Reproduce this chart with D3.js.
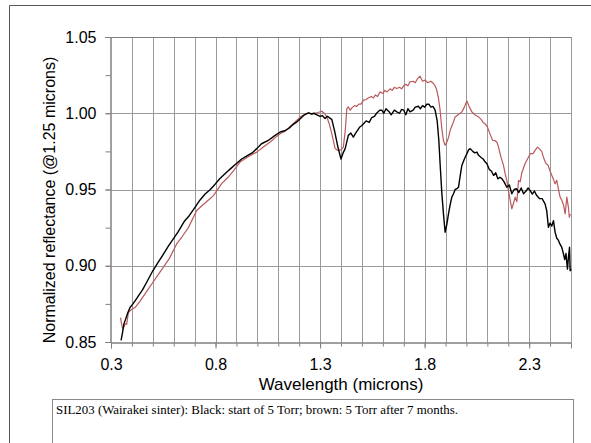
<!DOCTYPE html>
<html><head><meta charset="utf-8">
<script src="https://cdn.jsdelivr.net/npm/d3@7"></script>
<style>html,body{margin:0;padding:0;background:#fff;}svg{display:block;}</style>
</head><body>
<script>
// ---- data ----
const xTicks = [0.3, 0.8, 1.3, 1.8, 2.3];
const yTicks = [0.85, 0.90, 0.95, 1.00, 1.05];
const xLabel = "Wavelength (microns)";
const yLabel = "Normalized reflectance (@1.25 microns)";
const caption = "SIL203 (Wairakei sinter): Black: start of 5 Torr; brown: 5 Torr after 7 months.";

const blackWl = [0.348,0.355,0.362,0.370,0.380,0.391,0.405,0.42,0.435,0.45,0.47,0.50,0.52,0.55,0.575,0.598,0.62,0.65,0.675,0.70,0.725,0.75,0.775,0.798,0.82,0.85,0.875,0.90,0.925,0.95,0.975,0.997,1.02,1.05,1.08,1.109,1.13,1.15,1.17,1.189,1.21,1.225,1.244,1.26,1.27,1.285,1.30,1.31,1.324,1.335,1.345,1.356,1.37,1.385,1.40,1.41,1.42,1.435,1.447,1.459,1.47,1.48,1.49,1.50,1.51,1.52,1.535,1.547,1.56,1.57,1.585,1.595,1.605,1.615,1.63,1.64,1.655,1.667,1.68,1.69,1.70,1.71,1.72,1.73,1.745,1.755,1.77,1.78,1.79,1.80,1.81,1.82,1.83,1.84,1.85,1.86,1.868,1.874,1.882,1.89,1.898,1.906,1.914,1.922,1.93,1.938,1.946,1.954,1.962,1.97,1.978,1.99,2.002,2.01,2.018,2.03,2.04,2.05,2.058,2.07,2.08,2.09,2.098,2.11,2.12,2.13,2.14,2.15,2.16,2.17,2.18,2.193,2.205,2.217,2.228,2.24,2.25,2.262,2.273,2.285,2.295,2.305,2.315,2.325,2.336,2.35,2.362,2.376,2.384,2.392,2.40,2.408,2.416,2.424,2.432,2.44,2.448,2.456,2.464,2.47,2.476,2.483,2.488,2.493,2.496,2.5];
const blackRefl = [0.851,0.856,0.862,0.865,0.869,0.8726,0.875,0.878,0.881,0.884,0.889,0.8967,0.901,0.9075,0.913,0.9176,0.922,0.929,0.933,0.938,0.943,0.947,0.950,0.9535,0.957,0.961,0.964,0.967,0.970,0.972,0.974,0.9768,0.980,0.982,0.985,0.9877,0.9885,0.990,0.9925,0.9943,0.997,0.999,1.0002,0.9995,1.000,0.999,0.998,0.9985,0.9965,0.998,0.997,0.996,0.988,0.978,0.970,0.974,0.9768,0.9855,0.987,0.9844,0.987,0.989,0.991,0.992,0.9935,0.995,0.994,0.9972,0.998,1.000,1.002,1.002,1.000,1.003,1.001,0.999,1.002,1.0009,1.000,1.0025,1.002,0.999,1.003,1.0009,1.002,1.004,1.0046,1.003,1.005,1.004,1.0059,1.006,1.004,1.0045,1.002,0.995,0.982,0.9669,0.948,0.934,0.922,0.927,0.934,0.940,0.945,0.9472,0.950,0.9505,0.9515,0.959,0.9658,0.970,0.9735,0.976,0.9768,0.975,0.974,0.9745,0.9724,0.971,0.970,0.968,0.9669,0.963,0.962,0.9592,0.961,0.957,0.958,0.957,0.955,0.9515,0.953,0.9472,0.950,0.9505,0.948,0.951,0.9472,0.949,0.951,0.9493,0.947,0.949,0.946,0.944,0.944,0.9406,0.936,0.9252,0.928,0.926,0.9296,0.922,0.918,0.9166,0.914,0.912,0.9077,0.904,0.908,0.8978,0.906,0.9121,0.8967,0.898];

const brownWl = [0.346,0.350,0.356,0.362,0.368,0.375,0.383,0.395,0.415,0.44,0.47,0.50,0.525,0.55,0.58,0.614,0.64,0.67,0.71,0.74,0.765,0.79,0.83,0.86,0.89,0.917,0.95,0.975,0.997,1.03,1.06,1.085,1.109,1.13,1.15,1.17,1.189,1.21,1.225,1.244,1.26,1.275,1.29,1.308,1.32,1.332,1.344,1.356,1.365,1.372,1.38,1.388,1.40,1.411,1.42,1.428,1.435,1.444,1.455,1.465,1.475,1.485,1.495,1.508,1.52,1.53,1.545,1.555,1.565,1.575,1.587,1.60,1.61,1.62,1.635,1.645,1.655,1.667,1.68,1.69,1.70,1.71,1.72,1.73,1.745,1.755,1.765,1.778,1.79,1.802,1.815,1.83,1.842,1.85,1.858,1.866,1.874,1.882,1.89,1.898,1.906,1.914,1.922,1.934,1.946,1.96,1.978,1.99,2.002,2.014,2.026,2.04,2.058,2.07,2.08,2.09,2.10,2.114,2.125,2.137,2.145,2.153,2.165,2.177,2.185,2.193,2.201,2.209,2.217,2.225,2.233,2.241,2.249,2.257,2.265,2.28,2.292,2.305,2.318,2.33,2.34,2.35,2.36,2.368,2.38,2.39,2.40,2.412,2.424,2.432,2.44,2.448,2.456,2.464,2.472,2.48,2.488,2.492,2.496,2.5];
const brownRefl = [0.866,0.862,0.8588,0.860,0.862,0.8616,0.8693,0.871,0.8726,0.877,0.883,0.889,0.894,0.8989,0.905,0.9143,0.919,0.925,0.9362,0.940,0.943,0.946,0.954,0.958,0.963,0.968,0.971,0.973,0.9745,0.978,0.981,0.984,0.9866,0.988,0.9905,0.993,0.9954,0.998,0.999,1.0002,0.9995,1.000,1.0005,1.0013,1.000,0.9976,0.993,0.9866,0.981,0.9768,0.976,0.9757,0.976,0.9778,0.988,1.0031,1.0042,1.002,1.004,1.005,1.0045,1.006,1.006,1.0086,1.009,1.010,1.011,1.010,1.012,1.011,1.014,1.013,1.015,1.014,1.016,1.015,1.017,1.0162,1.017,1.016,1.018,1.019,1.018,1.0206,1.021,1.020,1.0225,1.0243,1.021,1.0217,1.020,1.021,1.0195,1.018,1.0151,1.010,1.002,0.990,0.982,0.979,0.981,0.984,0.9888,0.993,0.9976,0.999,1.0009,1.004,1.0081,1.004,1.0009,0.999,0.9976,0.996,0.994,0.993,0.991,0.986,0.9822,0.982,0.9811,0.978,0.9712,0.966,0.9603,0.956,0.9493,0.943,0.9373,0.941,0.945,0.942,0.9559,0.955,0.961,0.9669,0.970,0.9735,0.9735,0.976,0.9778,0.9765,0.975,0.9712,0.967,0.9660,0.962,0.958,0.9537,0.956,0.950,0.945,0.943,0.940,0.934,0.945,0.938,0.9318,0.934];

// ---- layout ----
const W = 591, H = 443;
const m = {left: 111, right: 571, top: 37, bottom: 342};

const svg = d3.select("body").append("svg").attr("width", W).attr("height", H)
  .style("font-family", "Arial, 'Liberation Sans', sans-serif");

// outer frame
svg.append("path").attr("d", `M9.5,${H} V5.5 H${W}`).attr("fill", "none").attr("stroke", "#555").attr("stroke-width", 1);

const x = d3.scaleLinear().domain([0.3, 2.5]).range([m.left, m.right]);
const y = d3.scaleLinear().domain([0.85, 1.05]).range([m.bottom, m.top]);

// gridlines
const xGrid = d3.range(0.3, 2.5001, 0.1).map(v => +v.toFixed(2));
const yGrid = d3.range(0.85, 1.0501, 0.05).map(v => +v.toFixed(2));
svg.append("g").selectAll("line").data(xGrid.slice(1)).join("line")
  .attr("x1", d => Math.round(x(d)) + 0.5).attr("x2", d => Math.round(x(d)) + 0.5)
  .attr("y1", m.top).attr("y2", m.bottom)
  .attr("stroke", "#9a9a9a").attr("stroke-width", 1);
svg.append("g").selectAll("line").data(yGrid.slice(1)).join("line")
  .attr("x1", m.left).attr("x2", m.right)
  .attr("y1", d => Math.round(y(d)) + 0.5).attr("y2", d => Math.round(y(d)) + 0.5)
  .attr("stroke", "#9a9a9a").attr("stroke-width", 1);

// axes
const xAxisMinor = d3.axisBottom(x).tickValues(xGrid).tickSize(4).tickFormat("");
const gxm = svg.append("g").attr("transform", `translate(0,${m.bottom + 0.5})`).call(xAxisMinor);
const xAxis = d3.axisBottom(x).tickValues(xTicks).tickSize(6).tickPadding(10).tickFormat(d3.format(".1f"));
const gx = svg.append("g").attr("transform", `translate(0,${m.bottom + 0.5})`).call(xAxis);
const yMinor = d3.range(0.85, 1.0501, 0.025).map(v => +v.toFixed(3));
const gym = svg.append("g").attr("transform", `translate(${m.left - 0.5},0)`).call(d3.axisLeft(y).tickValues(yMinor).tickSize(5).tickFormat(""));
const gy = svg.append("g").attr("transform", `translate(${m.left - 0.5},0)`).call(d3.axisLeft(y).tickValues(yTicks).tickSize(5).tickPadding(9).tickFormat(d3.format(".2f")));
[gx, gxm, gy, gym].forEach(g => {
  g.select(".domain").attr("stroke", "#808080");
  g.selectAll(".tick line").attr("stroke", "#808080");
  g.selectAll("text").attr("fill", "#000").style("font-size", "16px").style("font-family", "Arial, 'Liberation Sans', sans-serif");
});
// top border
svg.append("line").attr("x1", m.left).attr("x2", m.right).attr("y1", m.top + 0.5).attr("y2", m.top + 0.5).attr("stroke", "#808080");

// lines
const mk = (wl, rf) => wl.map((w, i) => [w, rf[i]]);
const line = d3.line().x(d => x(d[0])).y(d => y(d[1]));
svg.append("path").datum(mk(brownWl, brownRefl)).attr("d", line)
  .attr("fill", "none").attr("stroke", "#b9595b").attr("stroke-width", 1.2).attr("stroke-linejoin", "round");
svg.append("path").datum(mk(blackWl, blackRefl)).attr("d", line)
  .attr("fill", "none").attr("stroke", "#000").attr("stroke-width", 1.4).attr("stroke-linejoin", "round");

// axis labels
svg.append("text").attr("x", (m.left + m.right) / 2).attr("y", 390).attr("text-anchor", "middle")
  .style("font-size", "17px").text(xLabel);
svg.append("text").attr("transform", `translate(55,200) rotate(-90)`).attr("text-anchor", "middle")
  .style("font-size", "16px").text(yLabel);

// caption box
svg.append("rect").attr("x", 52.5).attr("y", 399.5).attr("width", 521).attr("height", 60)
  .attr("fill", "none").attr("stroke", "#888");
svg.append("text").attr("x", 56).attr("y", 414).style("font-family", "'Liberation Serif', 'Times New Roman', serif")
  .style("font-size", "12.9px").text(caption);
</script>
</body></html>
